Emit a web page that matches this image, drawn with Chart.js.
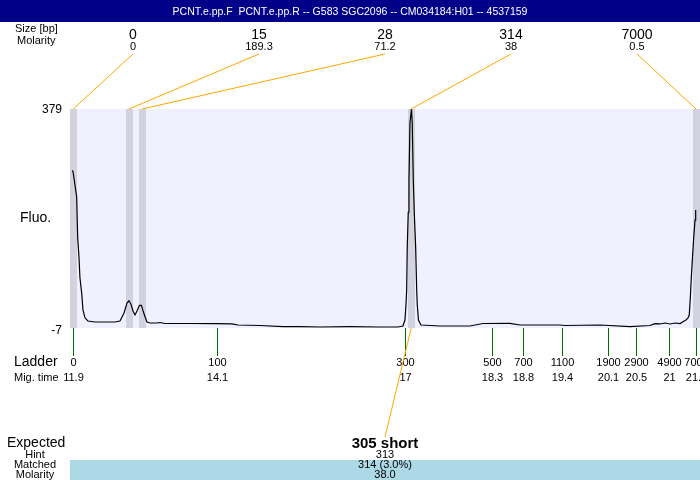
<!DOCTYPE html>
<html>
<head>
<meta charset="utf-8">
<script src="https://cdn.jsdelivr.net/npm/chart.js@4.4.0/dist/chart.umd.min.js"></script>
<style>
  html, body { margin: 0; padding: 0; background: #fff; }
</style>
</head>
<body>
<canvas id="chart" width="700" height="480"></canvas>
<script>
const title = 'PCNT.e.pp.F  PCNT.e.pp.R -- G583 SGC2096 -- CM034184:H01 -- 4537159';

// called peaks
const peakSizes = ['0', '15', '28', '314', '7000'];
const peakMolarity = ['0', '189.3', '71.2', '38', '0.5'];
const peakTimes = [11.9, 12.75, 12.95, 17.06, 21.41];

// ladder
const ladderSizes = ['0', '100', '300', '500', '700', '1100', '1900', '2900', '4900', '7000'];
const ladderTimes = [11.9, 14.09, 16.97, 18.3, 18.77, 19.37, 20.06, 20.49, 21.0, 21.41];

// expected / matched
const expectedText = '305 short';
const hintText = '313';
const matchedText = '314 (3.0%)';
const matchedMolarity = '38.0';
const matchedPeak = 3;

// electropherogram trace (migration time, fluorescence)
const traceTimes = [
  11.888, 11.9, 11.926, 11.952, 11.967, 11.987, 12.002, 12.028, 12.048, 12.079,
  12.124, 12.231, 12.384, 12.537, 12.613, 12.674, 12.72, 12.75, 12.781, 12.812,
  12.842, 12.873, 12.911, 12.941, 12.98, 13.025, 13.071, 13.178, 13.224, 13.3,
  13.682, 14.079, 14.323, 14.415, 14.751, 15.102, 15.362, 15.667, 16.125, 16.583,
  16.858, 16.934, 16.965, 16.98, 16.991, 17.0, 17.015, 17.026, 17.041, 17.064,
  17.076, 17.092, 17.107, 17.128, 17.144, 17.153, 17.171, 17.209, 17.499, 17.957,
  18.156, 18.568, 18.721, 19.332, 19.408, 19.943, 20.401, 20.706, 20.783, 20.859,
  20.936, 21.012, 21.088, 21.165, 21.21, 21.256, 21.287, 21.306, 21.322, 21.337,
  21.353, 21.374, 21.394, 21.404
];
const traceFluo = [
  271, 266, 245, 224, 153, 118, 81, 55, 25, 11,
  5.3, 3.6, 3.6, 3.6, 5.3, 19, 37, 41, 35, 23,
  16, 23, 33, 33, 18, 3.6, 1.8, 1.8, 2.7, 0.9,
  0.9, 0.6, 0.1, -1.7, -2.6, -4.7, -4.7, -5.2, -4.7, -5.2,
  -5.2, -3.5, 7, 33, 60, 136, 197, 254, 354, 379,
  354, 254, 197, 136, 60, 33, 7, -1.7, -3.5, -3.5,
  0.9, 1.3, -1.7, -1.7, -2.6, -1.7, -4.4, -2.6, 0.6, 0.1,
  1.8, 0.1, 1.8, 0.9, 4.1, 7.1, 10.6, 15.9, 45.9, 81,
  113, 152, 183, 201
];

const FONT = '"Liberation Sans", Arial, sans-serif';

function txt(ctx, s, x, y, size, align, weight) {
  ctx.font = (weight || 'normal') + ' ' + size + 'px ' + FONT;
  ctx.textAlign = align || 'center';
  ctx.textBaseline = 'middle';
  ctx.fillText(s, x, y);
}

const decor = {
  id: 'decor',
  beforeDatasetsDraw(chart) {
    const { ctx, chartArea: a, scales: { x } } = chart;
    ctx.save();
    ctx.fillStyle = '#f0f0ff';
    ctx.fillRect(a.left, a.top, a.right - a.left, a.bottom - a.top);
    ctx.beginPath();
    ctx.rect(a.left, a.top, a.right - a.left, a.bottom - a.top);
    ctx.clip();
    ctx.fillStyle = '#d3d3df';
    peakTimes.forEach(t => {
      const px = x.getPixelForValue(t);
      ctx.fillRect(Math.round(px) - 3, a.top, 7, a.bottom - a.top);
    });
    ctx.restore();
  },
  afterDraw(chart) {
    const { ctx, chartArea: a, scales: { x } } = chart;
    ctx.save();
    ctx.fillStyle = '#000';

    // top rows
    txt(ctx, 'Size [bp]', 15, 29, 11, 'left');
    txt(ctx, 'Molarity', 17, 41, 11, 'left');
    ctx.fillStyle = '#000088';
    ctx.fillRect(0, 0, 700, 22);
    ctx.fillStyle = '#fff';
    txt(ctx, title, 350, 12, 10.5);

    ctx.fillStyle = '#000';
    const labelX = i => 133 + i * 126;
    peakSizes.forEach((s, i) => {
      txt(ctx, s, labelX(i), 35, 14);
      txt(ctx, peakMolarity[i], labelX(i), 47, 11);
    });

    ctx.strokeStyle = '#ffa500';
    ctx.lineWidth = 1;
    peakTimes.forEach((t, i) => {
      ctx.beginPath();
      ctx.moveTo(labelX(i), 54);
      ctx.lineTo(x.getPixelForValue(t), a.top);
      ctx.stroke();
    });

    // y labels
    txt(ctx, '379', 62, a.top + 1, 12, 'right');
    txt(ctx, '-7', 62, a.bottom + 3, 12, 'right');
    txt(ctx, 'Fluo.', 20, (a.top + a.bottom) / 2, 14, 'left');

    // ladder
    txt(ctx, 'Ladder', 14, 362, 14, 'left');
    txt(ctx, 'Mig. time', 14, 378, 11, 'left');
    ctx.strokeStyle = '#007000';
    ladderTimes.forEach((t, i) => {
      const px = Math.round(x.getPixelForValue(t)) + 0.5;
      ctx.beginPath();
      ctx.moveTo(px, a.bottom);
      ctx.lineTo(px, 356);
      ctx.stroke();
      txt(ctx, ladderSizes[i], px, 363, 11);
      txt(ctx, String(parseFloat(t.toFixed(1))), px, 378, 11);
    });

    // expected
    const cx = (a.left + a.right) / 2;
    ctx.strokeStyle = '#ffa500';
    ctx.beginPath();
    ctx.moveTo(x.getPixelForValue(peakTimes[matchedPeak]), a.bottom);
    ctx.lineTo(cx, 437);
    ctx.stroke();

    ctx.fillStyle = '#add8e6';
    ctx.fillRect(a.left, 460, a.right - a.left, 20);
    ctx.fillStyle = '#000';
    txt(ctx, 'Expected', 7, 443, 14, 'left');
    txt(ctx, expectedText, cx, 444, 15, 'center', 'bold');
    txt(ctx, 'Hint', 35, 455, 11);
    txt(ctx, hintText, cx, 455, 11);
    txt(ctx, 'Matched', 35, 465, 11);
    txt(ctx, matchedText, cx, 465, 11);
    txt(ctx, 'Molarity', 35, 475, 11);
    txt(ctx, matchedMolarity, cx, 475, 11);
    ctx.restore();
  }
};

new Chart(document.getElementById('chart'), {
  type: 'line',
  data: {
    datasets: [{
      data: traceTimes.map((t, i) => ({ x: t, y: traceFluo[i] })),
      borderColor: '#000',
      borderWidth: 1.2,
      pointRadius: 0,
      tension: 0,
      fill: false
    }]
  },
  options: {
    responsive: false,
    animation: false,
    devicePixelRatio: 1,
    layout: { padding: { left: 70, right: 0, top: 109, bottom: 152 } },
    scales: {
      x: { type: 'linear', min: 11.85, max: 21.47, display: false },
      y: { min: -7, max: 379, display: false }
    },
    plugins: { legend: { display: false }, tooltip: { enabled: false } }
  },
  plugins: [decor]
});
</script>
</body>
</html>
